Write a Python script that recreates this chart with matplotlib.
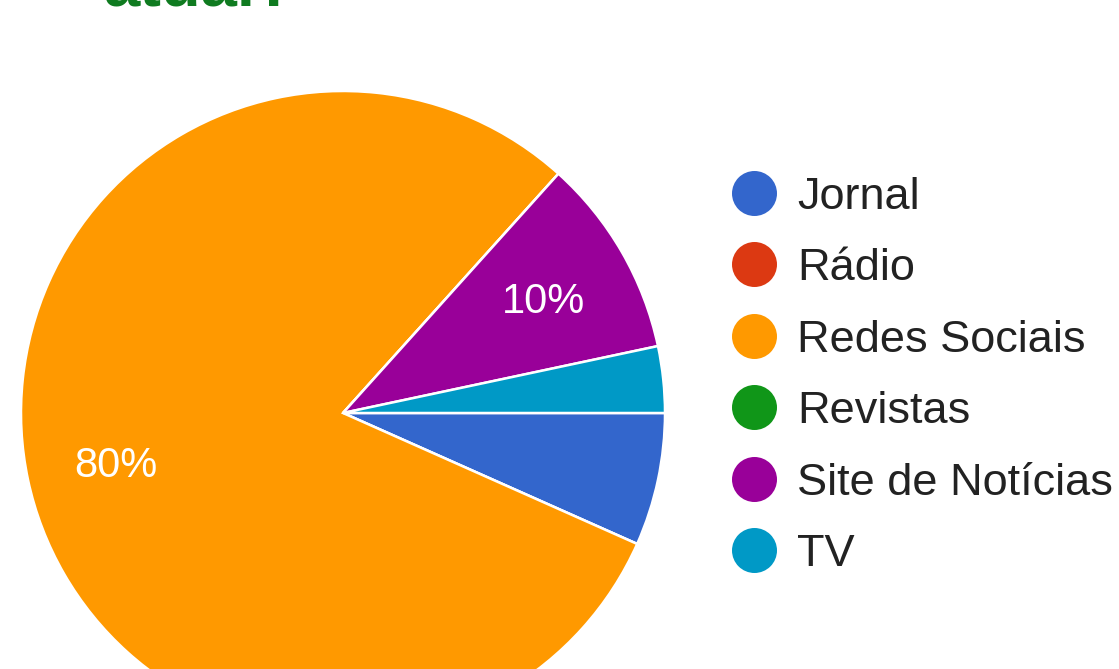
import matplotlib
matplotlib.use("Agg")
import matplotlib.pyplot as plt

categories = ["Jornal", "Rádio", "Redes Sociais", "Revistas", "Site de Notícias", "TV"]
counts = [2, 0, 24, 0, 3, 1]
colors = ["#3366cc", "#dc3912", "#ff9900", "#109618", "#990099", "#0099c6"]
title_tail = "atual?"

W, H = 1119, 669
fig = plt.figure(figsize=(W / 100, H / 100), dpi=100)
ax = fig.add_axes([0, 0, 1, 1])

def pct(p):
    return f"{p:.0f}%" if p >= 9.5 else ""

wedges, texts, autotexts = ax.pie(
    counts, colors=colors, startangle=0, counterclock=False,
    center=(343, H - 413), radius=322, autopct=pct, pctdistance=0.72,
    wedgeprops=dict(edgecolor="white", linewidth=1.8),
    textprops=dict(color="white", fontsize=30, family="Liberation Sans"),
)
for t in autotexts:
    t.set_va("center_baseline")
ax.set_xlim(0, W)
ax.set_ylim(0, H)
ax.set_aspect("equal")
ax.axis("off")

# legend
y0, step = 193, 71.4
for i, (lab, col) in enumerate(zip(categories, colors)):
    y = H - (y0 + i * step)
    ax.scatter([754], [y], s=(32.4) ** 2, color=col, marker="o", linewidths=0, clip_on=False)
    ax.text(797, y, lab, fontsize=32.5, color="#222222", va="center_baseline", ha="left",
            family="Liberation Sans")

fig.text(103 / W, (H - 5) / H, title_tail, fontsize=47, fontweight="bold",
         color="#0f7b20", family="Liberation Sans", va="baseline", ha="left")

fig.savefig("out.png", dpi=100)
